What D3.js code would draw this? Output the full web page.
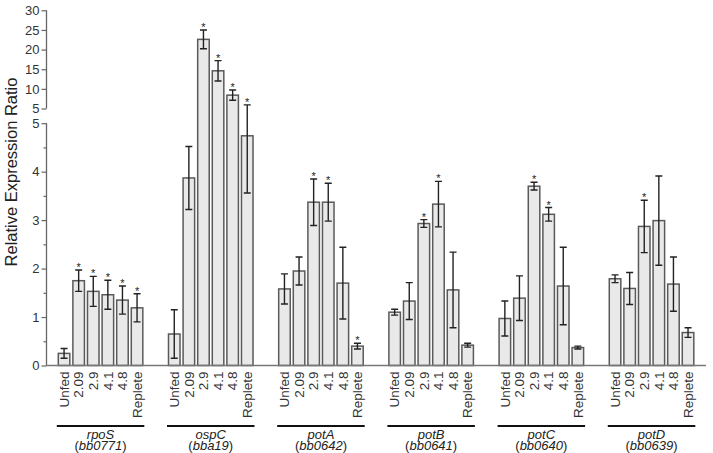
<!DOCTYPE html>
<html><head><meta charset="utf-8">
<script src="https://cdn.jsdelivr.net/npm/d3@7"></script>
<style>html,body{margin:0;padding:0;background:#fff;}svg{display:block;font-family:"Liberation Sans",Arial,sans-serif;}</style>
</head><body><svg id="c" width="713" height="453"></svg>
<script>
const genes = ["rpoS","ospC","potA","potB","potC","potD"];
const geneIds = ["bb0771","bba19","bb0642","bb0641","bb0640","bb0639"];
const conditions = ["Unfed","2.09","2.9","4.1","4.8","Replete"];
const means = {
  rpoS: [0.25,1.75,1.53,1.46,1.35,1.19],
  ospC: [0.65,3.87,22.6,14.6,8.4,4.74],
  potA: [1.58,1.95,3.37,3.37,1.70,0.40],
  potB: [1.10,1.33,2.93,3.33,1.56,0.42],
  potC: [0.97,1.39,3.70,3.12,1.64,0.37],
  potD: [1.79,1.59,2.87,2.99,1.68,0.68]
};
const errors = {
  rpoS: [0.10,0.22,0.31,0.30,0.29,0.29],
  ospC: [0.50,0.65,2.4,2.6,1.3,1.18],
  potA: [0.31,0.29,0.48,0.39,0.74,0.06],
  potB: [0.06,0.38,0.08,0.47,0.78,0.04],
  potC: [0.36,0.46,0.08,0.14,0.80,0.03],
  potD: [0.08,0.33,0.54,0.92,0.56,0.10]
};
const significant = {
  rpoS: [0,1,1,1,1,1],
  ospC: [0,0,1,1,1,1],
  potA: [0,0,1,1,0,1],
  potB: [0,0,1,1,0,0],
  potC: [0,0,1,1,0,0],
  potD: [0,0,1,0,0,0]
};
const lowerTicks = [0,1,2,3,4,5];
const lowerMinor = [0.5,1.5,2.5,3.5,4.5];
const upperTicks = [5,10,15,20,25,30];

const svg = d3.select("#c");
const axisX = 46.5;
const yLow = d3.scaleLinear().domain([0,5]).range([365.5,123.2]);
const yUp = d3.scaleLinear().domain([5,30]).range([108.5,10.3]);
const y = v => v <= 5 ? yLow(v) : yUp(v);

const x0 = d3.scaleBand().domain(genes).range([47,705.1]).paddingInner(0.233).paddingOuter(0.1025);
const x1 = d3.scaleBand().domain(conditions).range([0,x0.bandwidth()]).paddingInner(0.21).paddingOuter(0);

const rows = [];
genes.forEach(g => conditions.forEach((c,i) => rows.push({g, c, v: means[g][i], e: errors[g][i], s: significant[g][i]})));

// bars
svg.append("g").selectAll("rect").data(rows).join("rect")
  .attr("x", d => x0(d.g) + x1(d.c))
  .attr("width", x1.bandwidth())
  .attr("y", d => y(d.v))
  .attr("height", d => y(0) - y(d.v))
  .attr("fill", "#e9e9e9").attr("stroke", "#5a5a5a").attr("stroke-width", 1.5);

// error bars
const cx = d => x0(d.g) + x1(d.c) + x1.bandwidth()/2;
svg.append("g").attr("stroke", "#222").attr("stroke-width", 1.4).attr("fill", "none")
  .selectAll("path").data(rows).join("path")
  .attr("d", d => {
    const c = cx(d), t = y(d.v + d.e), b = y(Math.max(d.v - d.e, 0)), w = 3.5;
    return `M${c},${t}V${b}M${c-w},${t}H${c+w}M${c-w},${b}H${c+w}`;
  });

// asterisks
svg.append("g").selectAll("text").data(rows.filter(d => d.s)).join("text")
  .attr("x", cx).attr("y", d => y(d.v + d.e) + 1)
  .attr("text-anchor", "middle").attr("font-size", 11).attr("fill", "#222")
  .text("*");

// axes
const gLow = svg.append("g").attr("transform", `translate(${axisX},0)`)
  .call(d3.axisLeft(yLow).tickValues(lowerTicks).tickFormat(d3.format("d")).tickSize(5).tickPadding(2));
const gLowM = svg.append("g").attr("transform", `translate(${axisX},0)`)
  .call(d3.axisLeft(yLow).tickValues(lowerMinor).tickFormat("").tickSize(3));
gLowM.select(".domain").remove();
const gUp = svg.append("g").attr("transform", `translate(${axisX},0)`)
  .call(d3.axisLeft(yUp).tickValues(upperTicks).tickFormat(d3.format("d")).tickSize(5).tickPadding(2));
[gLow,gLowM,gUp].forEach(g => {
  g.selectAll(".domain").attr("stroke","#666").attr("stroke-width",1.3);
  g.selectAll(".tick line").attr("stroke","#666").attr("stroke-width",1.2);
  g.selectAll(".tick text").attr("fill","#333").attr("font-size",13).attr("font-family","Liberation Sans, Arial, sans-serif");
});
gLow.select(".domain").attr("d", `M0,${yLow(5)}V${yLow(0)}`);
gUp.select(".domain").attr("d", `M0,${yUp(30)}V${yUp(5)}`);

// baseline
svg.append("line").attr("x1", axisX).attr("x2", 706).attr("y1", yLow(0)).attr("y2", yLow(0))
  .attr("stroke","#777").attr("stroke-width",1.6);

// category labels
svg.append("g").selectAll("text").data(rows).join("text")
  .attr("transform", d => `translate(${cx(d)},${yLow(0)+6}) rotate(-90)`)
  .attr("text-anchor","end").attr("dy","0.35em")
  .attr("font-size",13.5).attr("fill","#333")
  .text(d => d.c);

// gene group lines and labels
const gg = svg.append("g").selectAll("g").data(genes).join("g");
gg.append("line")
  .attr("x1", d => x0(d) - 1.5).attr("x2", d => x0(d) + x0.bandwidth() + 1.5)
  .attr("y1", 426).attr("y2", 426).attr("stroke","#111").attr("stroke-width",2);
gg.append("text")
  .attr("x", d => x0(d) + x0.bandwidth()/2).attr("y", 438.5)
  .attr("text-anchor","middle").attr("font-size",13).attr("font-style","italic").attr("fill","#222")
  .text(d => d);
const t2 = gg.append("text")
  .attr("x", d => x0(d) + x0.bandwidth()/2).attr("y", 450)
  .attr("text-anchor","middle").attr("font-size",13).attr("fill","#222");
t2.append("tspan").text("(");
t2.append("tspan").attr("font-style","italic").text((d,i) => geneIds[i]);
t2.append("tspan").text(")");

// y title
svg.append("text").attr("transform","translate(17,172) rotate(-90)")
  .attr("text-anchor","middle").attr("font-size",16.5).attr("fill","#222")
  .text("Relative Expression Ratio");
</script></body></html>
